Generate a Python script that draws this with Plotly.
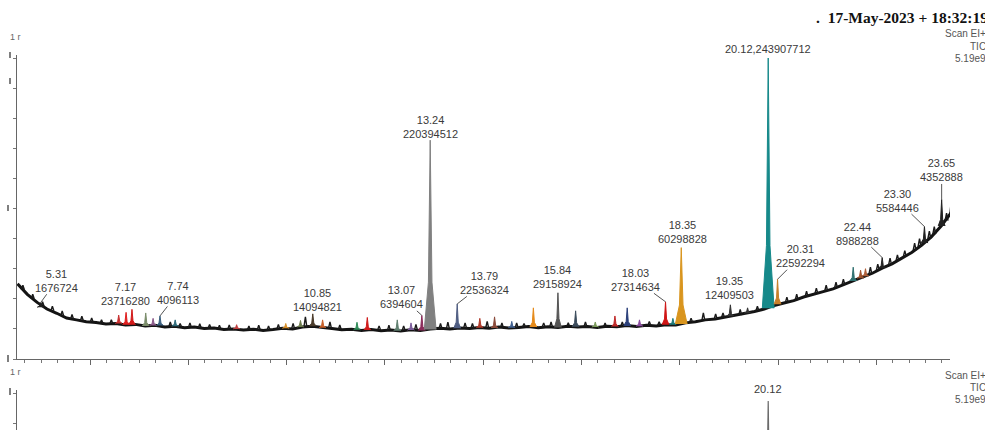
import plotly.graph_objects as go

# ---------------- data ----------------
base_times = [4.84, 5.04, 5.24, 5.44, 5.64, 5.84, 6.04, 6.24, 6.44, 6.64, 6.84, 7.04, 7.24, 7.44, 7.64, 7.84,
              8.04, 8.24, 8.44, 8.64, 8.84, 9.04, 9.24, 9.44, 9.64, 9.84, 10.04, 10.24, 10.44, 10.64, 10.84,
              11.04, 11.24, 11.44, 11.64, 11.84, 12.04, 12.24, 12.44, 12.64, 12.84, 13.04, 13.24, 13.44, 13.64,
              13.84, 14.04, 14.24, 14.44, 14.64, 14.84, 15.04, 15.24, 15.44, 15.64, 15.84, 16.04, 16.24, 16.44,
              16.64, 16.84, 17.04, 17.24, 17.44, 17.64, 17.84, 18.04, 18.24, 18.44, 18.64, 18.84, 19.04, 19.24,
              19.44, 19.64, 19.84, 20.04, 20.24, 20.44, 20.64, 20.84, 21.04, 21.24, 21.44, 21.64, 21.84, 22.04,
              22.24, 22.44, 22.64, 22.84, 23.04, 23.24, 23.44, 23.64, 23.84]
base_values = [25.0, 21.5, 18.8, 16.6, 15.2, 13.6, 13.0, 12.4, 12.1, 11.6, 11.8, 11.3, 11.5, 11.0, 11.2, 10.6,
               10.9, 10.4, 10.6, 10.1, 10.3, 9.8, 10.0, 9.6, 9.9, 9.5, 9.8, 10.2, 10.0, 10.6, 10.9,
               10.4, 10.1, 9.7, 9.9, 9.5, 9.8, 9.4, 9.6, 9.3, 9.7, 9.5, 10.0, 10.2, 10.0,
               10.3, 10.1, 10.5, 10.2, 10.6, 10.3, 10.5, 10.8, 10.4, 10.7, 10.5, 10.9, 10.6, 10.8,
               10.5, 10.9, 10.7, 11.1, 10.8, 11.2, 11.0, 11.4, 11.3, 12.0, 12.4, 13.0, 13.3, 13.9,
               14.4, 15.0, 15.8, 16.6, 17.8, 18.6, 19.4, 20.6, 21.4, 22.4, 23.3, 24.6, 25.8, 27.2,
               28.5, 30.2, 31.6, 33.5, 35.4, 37.8, 40.6, 44.2, 48.5]

# small black noise spikes: time, top, base (%)
spike_times = [4.95, 5.15, 5.35, 5.55, 5.75, 5.95, 6.15, 6.35, 6.55, 6.75, 7.95, 8.15, 8.35, 8.55, 8.75,
               8.95, 9.15, 9.55, 9.75, 9.95, 10.15, 10.45, 10.70, 11.20, 11.40, 12.20, 12.40, 12.70, 12.95,
               13.45, 13.60, 13.95, 14.10, 14.40, 14.70, 15.00, 15.15, 15.55, 15.70, 16.05, 16.40, 16.80,
               17.15, 17.70, 17.90, 18.55, 18.80, 19.05, 19.20, 19.55, 19.90, 20.50, 20.70, 20.90, 21.10,
               21.30, 21.50, 21.65, 22.20, 22.35, 22.60, 22.75, 22.90, 23.10, 23.20, 23.40, 23.50, 23.75,
               23.85]
spike_tops = [24.5, 21.5, 19.0, 17.5, 16.0, 14.8, 14.2, 13.6, 13.0, 13.0, 12.3, 11.8, 12.0, 11.7, 11.5,
              11.2, 11.3, 11.0, 11.2, 11.0, 11.5, 11.8, 14.0, 12.3, 11.3, 11.0, 11.2, 11.0, 11.5,
              11.8, 12.2, 12.0, 11.8, 12.5, 12.0, 12.0, 11.8, 12.0, 12.3, 12.0, 12.3, 12.0,
              12.3, 12.5, 12.4, 13.5, 15.3, 15.0, 15.3, 16.5, 17.5, 20.5, 21.5, 22.5, 23.5,
              24.5, 25.5, 26.5, 30.5, 31.5, 33.5, 34.6, 36.0, 38.5, 40.0, 42.5, 44.0, 48.5,
              53.0]
spike_bases = [23.0, 20.0, 17.5, 16.0, 14.3, 13.2, 12.7, 12.2, 11.8, 11.7, 10.7, 10.6, 10.5, 10.3, 10.2,
               10.0, 9.9, 9.7, 9.7, 9.6, 10.0, 10.1, 10.6, 10.2, 9.8, 9.6, 9.5, 9.5, 9.6,
               10.1, 10.1, 10.2, 10.2, 10.3, 10.4, 10.4, 10.6, 10.6, 10.6, 10.8, 10.7, 10.7,
               10.9, 11.1, 11.2, 12.2, 12.8, 13.3, 13.8, 14.6, 16.0, 18.8, 19.6, 20.7, 21.7,
               22.6, 23.6, 24.6, 28.2, 29.4, 31.3, 32.6, 34.0, 36.1, 37.3, 40.0, 41.5, 46.0,
               48.5]

# coloured peaks: time, top, base (%)
peak_times = [5.31, 6.90, 7.05, 7.17, 7.45, 7.60, 7.74, 8.05, 9.30, 10.30, 10.60, 10.85, 11.05, 11.75, 11.96,
              12.57, 12.85, 13.07, 13.24, 13.79, 14.25, 14.55, 14.90, 15.34, 15.84, 16.20, 16.60, 17.00,
              17.25, 17.50, 18.03, 18.18, 18.35, 19.35, 19.70, 20.12, 20.31, 21.85, 22.00, 22.10, 22.44,
              23.30, 23.65]
peak_tops = [18.7, 14.6, 15.5, 16.5, 15.3, 13.5, 14.3, 13.0, 11.4, 11.8, 12.8, 15.0, 13.0, 12.2, 13.8,
             13.0, 12.0, 14.5, 72.7, 18.3, 13.5, 14.0, 12.5, 17.0, 22.0, 16.0, 12.3, 14.3,
             17.0, 13.0, 19.0, 13.5, 37.0, 18.0, 17.0, 100.0, 26.5, 30.5, 29.5, 30.0, 33.7,
             44.0, 53.0]
peak_bases = [17.2, 11.8, 11.4, 11.4, 11.0, 11.1, 11.1, 10.9, 10.0, 10.2, 10.6, 10.9, 10.4, 9.7, 9.6,
              9.4, 9.6, 9.5, 9.8, 10.2, 10.4, 10.3, 10.4, 10.6, 10.5, 10.7, 10.6, 10.8,
              11.0, 10.9, 11.4, 11.4, 11.6, 14.2, 15.2, 16.9, 18.2, 25.9, 26.8, 27.5, 30.2,
              38.5, 44.2]

# peak labels: retention time and area
label_times = [5.31, 7.17, 7.74, 10.85, 13.07, 13.24, 13.79, 15.84, 18.03, 18.35, 19.35, 20.12, 20.31,
               22.44, 23.30, 23.65]
label_areas = ["1676724", "23716280", "4096113", "14094821", "6394604", "220394512", "22536324", "29158924",
               "27314634", "60298828", "12409503", "243907712", "22592294", "8988288", "5584446", "4352888"]
label_heights = [18.7, 16.5, 14.3, 15.0, 14.5, 72.7, 18.3, 22.0, 19.0, 37.0, 18.0, 100.0, 26.5, 33.7, 44.0, 53.0]

lower_peak_time = 20.12
lower_peak_top = 97.3

# ---------------- styles ----------------
peak_colors = ["#222222", "#c83030", "#e02020", "#d21a1a", "#7a8c6a", "#8a5a8a", "#3a5f7f", "#2f6b7a",
               "#c04040", "#d9902a", "#6a7a4a", "#4a3b2a", "#c8602a", "#2e8b57", "#d01a1a",
               "#5f7f6f", "#7a5a9a", "#8b2c5a", "#808080", "#4f5d82", "#b03a2a", "#8a4a3a", "#3f5f8f",
               "#e58a1a", "#555555", "#3c4c5c", "#7a9a5a", "#c02a2a", "#2a3f7a", "#8a4aa0", "#d01515",
               "#1e7b7b", "#d9951e", "#333333", "#333333", "#16898a", "#c8802a", "#2f7070", "#a0522d",
               "#b0603a", "#222222", "#222222", "#222222"]
big_peak_hw = 0.12
small_peak_hw = 0.07
spike_hw = 0.03
# label text offsets (px) of text centre from the peak point; leader flag
label_dx = [16, -6, 18, 5, -20, 0, 27, 0, -30, 1, -1, 0, 23, -25, -27, 0]
label_dy = [-22, -15, -23, -14, -18, -13, -21, -16, -22, -16, -17, -9, -23, -24, -26, -29]
label_leader = [True, False, True, False, True, False, True, False, True, False, False, False, True, True,
                True, True]

LABEL_FONT = dict(family="Liberation Sans, Arial, sans-serif", size=11, color="#3a3a3a")

fig = go.Figure()

# baseline trace
fig.add_trace(go.Scatter(x=base_times, y=base_values, mode="lines",
                         line=dict(color="#141414", width=3), hoverinfo="skip", showlegend=False))

# black noise spikes
sx, sy = [], []
for t, top, b in zip(spike_times, spike_tops, spike_bases):
    sx += [t - spike_hw, t, t + spike_hw, None]
    sy += [b, top, b, None]
fig.add_trace(go.Scatter(x=sx, y=sy, mode="lines", line=dict(color="#1a1a1a", width=1.4),
                         hoverinfo="skip", showlegend=False))

# coloured peaks
for t, top, b, c in zip(peak_times, peak_tops, peak_bases, peak_colors):
    hw = big_peak_hw if top - b > 20 else small_peak_hw
    shoulder = b + (top - b) * 0.25
    fig.add_trace(go.Scatter(
        x=[t - hw, t - hw * 0.3, t, t + hw * 0.3, t + hw],
        y=[b, shoulder, top, shoulder, b],
        mode="lines", fill="toself", fillcolor=c, line=dict(color=c, width=1),
        hoverinfo="skip", showlegend=False))

# lower panel peak
fig.add_trace(go.Scatter(
    x=[lower_peak_time - 0.03, lower_peak_time, lower_peak_time + 0.03],
    y=[60, lower_peak_top, 60], mode="lines", fill="toself", fillcolor="#6a6a6a",
    line=dict(color="#6a6a6a", width=1.2), xaxis="x2", yaxis="y2",
    hoverinfo="skip", showlegend=False))

annotations = []
for t, area, h, dx, dy, lead in zip(label_times, label_areas, label_heights, label_dx, label_dy, label_leader):
    txt = f"{t:.2f},{area}" if h >= 100 else f"{t:.2f}<br>{area}"
    if lead:
        annotations.append(dict(x=t, y=h, xref="x", yref="y", text=txt, showarrow=True,
                                ax=dx, ay=dy, arrowhead=0, arrowwidth=1, arrowcolor="#555",
                                standoff=0, font=LABEL_FONT, borderpad=0))
    else:
        annotations.append(dict(x=t, y=h, xref="x", yref="y", text=txt, showarrow=False,
                                xanchor="center", yanchor="middle", xshift=dx, yshift=-dy,
                                font=LABEL_FONT, borderpad=0))

annotations.append(dict(x=lower_peak_time, y=lower_peak_top, xref="x2", yref="y2", text="20.12",
                        showarrow=False, yanchor="middle", yshift=12, font=LABEL_FONT))

# page body margin is removed by post_script, so figure pixels == reference pixels
W, H, L, R = 985, 430, 17, 35
PW = W - L - R


def px(xr):
    return (xr - L) / PW


def py(yr):
    return 1 - yr / H


# header
annotations.append(dict(x=px(814), y=py(18), xref="paper", yref="paper", xanchor="left", yanchor="middle",
                        text="<b>.  17-May-2023 + 18:32:19</b>", showarrow=False,
                        font=dict(family="Liberation Serif, Times New Roman, serif", size=15.5, color="#111")))
SIDE_FONT = dict(family="Liberation Sans, Arial, sans-serif", size=10, color="#555")
for txt, yp in [("Scan EI+", 34), ("TIC", 46), ("5.19e9", 58), ("Scan EI+", 375), ("TIC", 387), ("5.19e9", 399)]:
    annotations.append(dict(x=px(987), y=py(yp), xref="paper", yref="paper", xanchor="right",
                            yanchor="middle", text=txt, showarrow=False, font=SIDE_FONT, borderpad=0))
for yp in [37, 372]:
    annotations.append(dict(x=px(15), y=py(yp), xref="paper", yref="paper", xanchor="center",
                            yanchor="middle", text="1 r", showarrow=False,
                            font=dict(family="Liberation Sans, Arial, sans-serif", size=9, color="#666")))

shapes = []
for (x0, y0, y1) in [(10, 52, 58), (10, 78, 84), (8, 205, 211), (8, 355, 362), (10, 388, 395)]:
    shapes.append(dict(type="line", xref="paper", yref="paper", x0=px(x0), x1=px(x0), y0=py(y0), y1=py(y1),
                       line=dict(color="#555", width=1.5)))

fig.update_layout(
    width=W, height=H, margin=dict(l=L, r=R, t=0, b=0),
    paper_bgcolor="white", plot_bgcolor="white", showlegend=False,
    xaxis=dict(domain=[0, 1], anchor="y", range=[4.83, 23.82], showline=True, linecolor="#666", linewidth=1,
               ticks="outside", ticklen=5, tickcolor="#666", tick0=8.32, dtick=2,
               minor=dict(ticks="outside", ticklen=3, tickcolor="#777", tick0=8.32, dtick=1 / 3),
               showticklabels=False, showgrid=False, zeroline=False),
    yaxis=dict(domain=[(H - 359) / H, (H - 55) / H], anchor="x", range=[0, 101], showline=True,
               linecolor="#666", linewidth=1, ticks="outside", ticklen=3, tickcolor="#777", dtick=10,
               showticklabels=False, showgrid=False, zeroline=False),
    xaxis2=dict(domain=[0, 1], anchor="y2", matches="x", range=[4.83, 23.82], visible=False),
    yaxis2=dict(domain=[0, (H - 390) / H], anchor="x2", range=[87.7, 101], showline=True,
                linecolor="#666", linewidth=1, ticks="outside", ticklen=3, tickcolor="#777", dtick=10,
                showticklabels=False, showgrid=False, zeroline=False),
    annotations=annotations, shapes=shapes,
)

fig.write_html("out.html", config={"displayModeBar": False},
               post_script="document.body.style.margin='0';document.body.style.overflow='hidden';")
